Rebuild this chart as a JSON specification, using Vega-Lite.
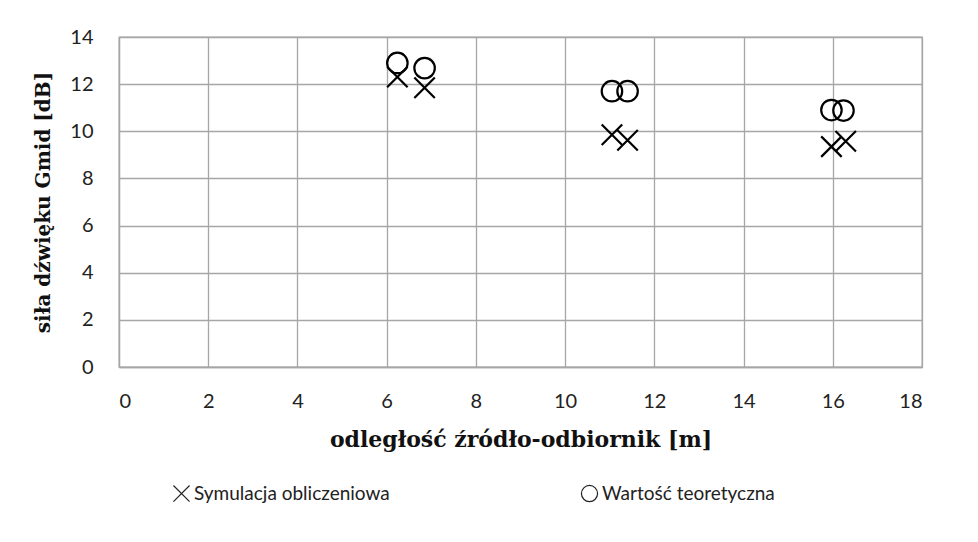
{
  "$schema": "https://vega.github.io/schema/vega-lite/v6.json",
  "width": 803,
  "height": 330,
  "autosize": "none",
  "padding": {"left": 119, "top": 37, "right": 56, "bottom": 175},
  "background": "white",
  "data": {
    "values": [
      {"d": 6.24, "g": 12.3, "seria": "Symulacja obliczeniowa"},
      {"d": 6.85, "g": 11.85, "seria": "Symulacja obliczeniowa"},
      {"d": 11.05, "g": 9.85, "seria": "Symulacja obliczeniowa"},
      {"d": 11.4, "g": 9.62, "seria": "Symulacja obliczeniowa"},
      {"d": 15.97, "g": 9.35, "seria": "Symulacja obliczeniowa"},
      {"d": 16.29, "g": 9.58, "seria": "Symulacja obliczeniowa"},
      {"d": 6.24, "g": 12.9, "seria": "Wartość teoretyczna"},
      {"d": 6.85, "g": 12.68, "seria": "Wartość teoretyczna"},
      {"d": 11.05, "g": 11.7, "seria": "Wartość teoretyczna"},
      {"d": 11.4, "g": 11.7, "seria": "Wartość teoretyczna"},
      {"d": 15.97, "g": 10.9, "seria": "Wartość teoretyczna"},
      {"d": 16.24, "g": 10.88, "seria": "Wartość teoretyczna"}
    ]
  },
  "mark": {"type": "point", "filled": false, "stroke": "black", "strokeWidth": 2.2, "size": 420, "opacity": 1},
  "encoding": {
    "x": {
      "field": "d", "type": "quantitative",
      "scale": {"domain": [0, 18], "nice": false, "zero": true},
      "axis": {"values": [0, 2, 4, 6, 8, 10, 12, 14, 16, 18], "title": "odległość źródło-odbiornik [m]", "titlePadding": 18, "labelPadding": 24, "titleFontSize": 22}
    },
    "y": {
      "field": "g", "type": "quantitative",
      "scale": {"domain": [0, 14], "nice": false},
      "axis": {"values": [0, 2, 4, 6, 8, 10, 12, 14], "title": "siła dźwięku Gmid [dB]", "titlePadding": 16, "labelPadding": 26, "titleFontSize": 20}
    },
    "shape": {
      "field": "seria", "type": "nominal",
      "scale": {"domain": ["Symulacja obliczeniowa", "Wartość teoretyczna"], "range": ["M-1,-1L1,1M-1,1L1,-1", "circle"]},
      "legend": {
        "title": null, "orient": "none", "legendX": 53, "legendY": 447,
        "direction": "horizontal", "columns": 2, "columnPadding": 189,
        "symbolSize": 260, "symbolStrokeColor": "#222", "symbolFillColor": "transparent", "symbolStrokeWidth": 1.2,
        "labelFont": "Lato", "labelFontSize": 19, "labelColor": "#222", "labelOffset": 3, "labelLimit": 400
      }
    }
  },
  "config": {
    "view": {"stroke": "#a6a6a6", "strokeWidth": 1.3},
    "axis": {
      "grid": true, "gridColor": "#a6a6a6", "gridWidth": 1.3,
      "domainColor": "#a6a6a6", "domainWidth": 1.3, "ticks": false,
      "labelFont": "Lato", "labelFontSize": 20, "labelColor": "#222",
      "titleFont": "DejaVu Serif", "titleFontWeight": "bold", "titleColor": "#111"
    }
  }
}
